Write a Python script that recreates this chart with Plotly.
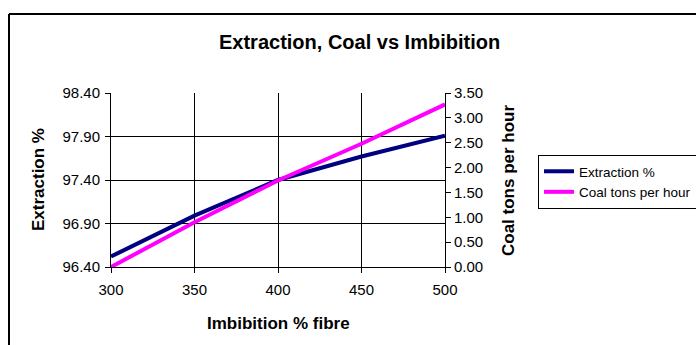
import plotly.graph_objects as go

imbibition = [300, 350, 400, 450, 500]
extraction = [96.52, 96.99, 97.40, 97.67, 97.91]
coal_tph = [0.00, 0.90, 1.74, 2.48, 3.27]

x_ticks = [300, 350, 400, 450, 500]
left_ticks = [96.40, 96.90, 97.40, 97.90, 98.40]
right_ticks = [0.0, 0.5, 1.0, 1.5, 2.0, 2.5, 3.0, 3.5]

FONT = "Liberation Sans, Arial, sans-serif"

W, H = 696, 345
L, R, T, B = 111, 445, 93, 267

fig = go.Figure()
fig.add_trace(go.Scatter(x=imbibition, y=extraction, name="Extraction %", mode="lines",
                         line=dict(color="#000080", width=4), yaxis="y"))
fig.add_trace(go.Scatter(x=imbibition, y=coal_tph, name="Coal tons per hour", mode="lines",
                         line=dict(color="#FF00FF", width=4), yaxis="y2"))

def px_x(p):
    return (p - L) / (R - L)

def px_y(p):
    return (B - p) / (B - T)

fig.update_layout(
    width=W, height=H,
    margin=dict(l=L, r=W - R, t=T, b=H - B, autoexpand=False),
    paper_bgcolor="white", plot_bgcolor="white",
    font=dict(family=FONT, color="black", size=15),
    showlegend=True,
    legend=dict(x=px_x(538), y=px_y(155), xanchor="left", yanchor="top",
                bordercolor="black", borderwidth=1, bgcolor="white",
                font=dict(size=13.5, family=FONT), tracegroupgap=0,
                itemwidth=30),
    xaxis=dict(range=[300, 500], tickvals=x_ticks, ticktext=[str(v) for v in x_ticks],
               showgrid=True, gridcolor="black", gridwidth=1,
               showline=True, linecolor="black", linewidth=1,
               ticks="outside", ticklen=5, tickcolor="black",
               ticklabelstandoff=4,
               tickfont=dict(size=15), zeroline=False),
    yaxis=dict(range=[96.40, 98.40], tickvals=left_ticks,
               ticktext=[f"{v:.2f}" for v in left_ticks],
               showgrid=True, gridcolor="black", gridwidth=1,
               showline=True, linecolor="black", linewidth=1,
               ticks="outside", ticklen=5, tickcolor="black",
               ticklabelstandoff=2,
               tickfont=dict(size=15), zeroline=False),
    yaxis2=dict(range=[0, 3.5], tickvals=right_ticks,
                ticktext=[f"{v:.2f}" for v in right_ticks],
                overlaying="y", side="right", showgrid=False,
                showline=True, linecolor="black", linewidth=1,
                ticks="outside", ticklen=5, tickcolor="black",
                tickfont=dict(size=15), zeroline=False),
    annotations=[
        dict(text="<b>Extraction, Coal vs Imbibition</b>", xref="paper", yref="paper",
             x=px_x(359), y=px_y(42), xanchor="center", yanchor="middle",
             showarrow=False, font=dict(size=20, family=FONT)),
        dict(text="<b>Imbibition % fibre</b>", xref="paper", yref="paper",
             x=px_x(278), y=px_y(323), xanchor="center", yanchor="middle",
             showarrow=False, font=dict(size=17, family=FONT)),
        dict(text="<b>Extraction %</b>", xref="paper", yref="paper",
             x=px_x(38), y=px_y(180), xanchor="center", yanchor="middle",
             textangle=-90, showarrow=False, font=dict(size=17, family=FONT)),
        dict(text="<b>Coal tons per hour</b>", xref="paper", yref="paper",
             x=px_x(508), y=px_y(180), xanchor="center", yanchor="middle",
             textangle=-90, showarrow=False, font=dict(size=17, family=FONT)),
    ],
    shapes=[
        dict(type="line", xref="paper", yref="paper",
             x0=px_x(9), y0=px_y(14), x1=px_x(700), y1=px_y(14),
             line=dict(color="black", width=2), layer="above"),
        dict(type="line", xref="paper", yref="paper",
             x0=px_x(9), y0=px_y(14), x1=px_x(9), y1=px_y(350),
             line=dict(color="black", width=2), layer="above"),
    ],
)

fig.write_html("out.html")
